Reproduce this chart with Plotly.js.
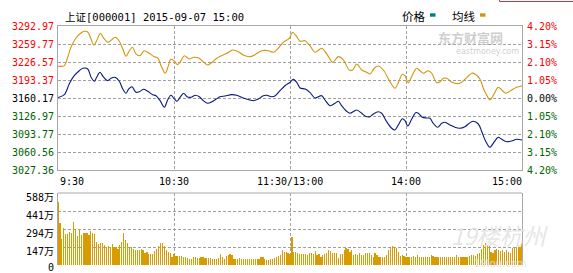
<!DOCTYPE html>
<html><head><meta charset="utf-8">
<script src="https://cdn.plot.ly/plotly-3.0.1.min.js"></script>
<style>html,body{margin:0;padding:0;background:#fff}#chart{width:573px;height:273px}</style>
</head><body><div id="chart"></div>
<script>
const headerText = '上证[000001] 2015-09-07 15:00';
const legendNames = ['价格', '均线'];
const prevClose = 3160.17;
const priceTicks = [3292.97,3259.77,3226.57,3193.37,3160.17,3126.97,3093.77,3060.56,3027.36];
const pctTicks = ['4.20%','3.15%','2.10%','1.05%','0.00%','1.05%','2.10%','3.15%','4.20%'];
const timeTickVals = [0,60,120,180,240];
const timeTickText = ['9:30','10:30','11:30/13:00','14:00','15:00'];
const volTicks = [588,441,294,147,0];
const volTickText = ['588万','441万','294万','147万','0'];

const priceMin = [0,3.3,5.8,8.4,11.0,12.8,15.4,17.1,18.8,20.0,21.7,23.4,25.7,27.4,29.5,31.7,33.5,35.2,36.6,38.3,40.3,42.1,44.3,46.4,49.0,50.7,52.8,55.0,56.7,58.4,60.2,61.6,63.1,65.0,66.7,68.8,71.0,73.1,75.2,77.4,79.7,81.7,83.8,86.4,89.8,92.4,95.8,99.3,101.0,103.6,106.2,107.9,110.5,112.2,114.8,117.4,120.0,121.7,123.5,125.2,127.8,130.3,132.9,136.4,138.1,140.7,143.3,145.0,146.7,149.3,151.0,154.5,157.1,158.8,161.4,163.1,165.7,167.4,170.0,172.6,174.3,176.0,178.1,179.5,180.9,182.9,185.0,186.4,188.4,190.7,192.4,194.1,196.4,198.5,200.2,202.8,205.3,207.9,210.5,213.1,214.8,217.4,219.2,220.9,223.4,225.7,227.7,229.5,232.1,234.7,237.2,240];
const priceVal = [3161,3166.3,3186.0,3201.3,3210.5,3215.0,3213.7,3198.4,3191.0,3198.4,3207.6,3199.5,3192.1,3196.5,3198.4,3191.0,3176.8,3168.9,3176.8,3181.0,3170.7,3171.8,3176.2,3172.6,3166.3,3164.4,3155.2,3143.0,3156.5,3165.2,3158.4,3154.1,3161.5,3168.9,3162.6,3161.5,3165.2,3162.6,3155.2,3150.4,3153.4,3157.8,3162.6,3163.9,3166.3,3165.2,3160.2,3156.5,3155.2,3158.4,3164.4,3165.2,3162.6,3163.9,3173.6,3182.8,3189.1,3194.6,3189.1,3178.6,3176.8,3170.7,3160.2,3164.4,3156.5,3146.0,3150.4,3154.1,3146.0,3135.7,3132.0,3138.1,3132.0,3127.0,3125.7,3130.7,3134.9,3132.0,3116.5,3104.3,3101.2,3110.4,3122.0,3118.3,3108.5,3120.9,3133.1,3132.0,3124.6,3123.3,3122.7,3113.5,3106.1,3113.5,3115.4,3110.4,3106.1,3104.3,3107.3,3114.6,3117.2,3112.2,3098.0,3082.7,3069.3,3079.6,3087.7,3084.0,3079.6,3080.9,3084.0,3082.7];

const avgMin = [0,3.3,5.0,6.7,9.3,11.9,13.6,15.4,17.1,18.5,20.0,21.9,23.6,26.0,27.8,29.5,31.7,33.5,35.2,36.9,38.6,40.3,42.4,44.6,47.2,49.8,51.6,53.3,55.5,57.1,58.4,60.2,61.9,63.6,65.3,67.9,70.2,72.8,74.8,77.4,79.7,81.7,83.8,87.3,90.4,93.3,95.8,99.3,101.9,105.4,108.8,111.4,114.0,116.5,119.6,121.4,123.1,125.2,127.8,130.3,132.9,136.4,139.0,142.1,145.0,147.6,150.7,152.4,154.5,157.1,159.7,161.4,163.6,165.7,168.3,171.7,174.3,176.0,178.1,179.5,181.2,183.3,185.5,187.2,189.0,191.5,193.3,195.9,197.6,199.3,201.1,203.3,205.3,207.9,210.5,214.0,215.7,218.3,220.0,221.7,223.4,225.7,227.7,229.5,231.5,234.7,237.2,240];
const avgVal = [3218.7,3219.8,3235.3,3253.7,3270.8,3280.1,3283.2,3281.9,3269.0,3258.0,3265.9,3279.5,3270.8,3262.9,3267.7,3272.2,3264.8,3250.6,3237.1,3247.4,3253.7,3241.4,3238.2,3247.4,3242.6,3236.4,3234.0,3219.8,3205.8,3219.8,3232.1,3227.9,3221.6,3229.0,3238.2,3232.1,3235.3,3234.0,3227.9,3221.1,3226.0,3232.1,3237.1,3242.6,3248.7,3245.6,3239.5,3236.4,3240.1,3247.4,3247.4,3244.5,3252.4,3262.9,3270.3,3281.4,3275.1,3264.8,3265.9,3256.7,3244.5,3251.9,3241.4,3226.0,3236.4,3230.3,3211.8,3211.8,3222.9,3211.8,3207.6,3204.5,3215.0,3219.2,3211.8,3190.3,3178.1,3188.4,3203.9,3200.8,3188.4,3202.6,3215.0,3210.5,3205.8,3210.5,3205.8,3188.4,3190.3,3196.5,3196.5,3190.3,3187.3,3187.3,3194.7,3205.8,3204.5,3194.7,3178.1,3165.7,3156.5,3168.9,3179.9,3175.0,3168.9,3175.0,3179.9,3182.3];

const volume = [517,345,215,305,251,251,272,264,354,292,240,292,245,264,258,264,245,280,264,254,190,169,182,176,161,145,156,143,172,145,145,131,163,190,264,202,176,150,143,131,123,123,123,131,119,96,104,90,90,90,116,128,156,176,182,158,119,109,96,63,90,76,76,76,74,68,63,54,49,46,63,68,
57,57,63,68,60,57,57,57,49,49,49,57,90,68,46,74,79,90,84,49,46,52,57,49,49,49,49,49,49,49,49,52,52,63,63,49,41,41,49,46,54,63,74,84,
123,109,109,101,90,226,
109,109,101,90,87,90,90,82,101,95,90,114,82,90,68,82,90,101,123,112,101,101,95,60,90,90,123,142,128,109,123,82,90,82,95,82,82,95,101,101,82,68,95,
82,68,
68,68,63,79,123,150,155,150,136,109,74,79,74,68,63,68,63,74,63,79,63,68,63,63,63,68,79,74,68,63,63,63,63,63,63,63,63,63,68,79,68,63,63,63,63,68,74,79,79,74,90,101,128,163,182,163,155,109,101,123,128,123,118,123,109,123,109,95,136,136,150,136,150,182];
const volMin = volume.map((v, i) => i);

const W = 573, H = 273;
const px = x => x / W, py = y => 1 - y / H;
const RED = '#ff0000', GREEN = '#006400', BLACK = '#000000';
const GRID = '#a0a0a0', BORDER = '#a8a8a8';
const FONT = 'DejaVu Sans Mono, Noto Sans CJK SC, monospace';
const colorFor = v => v > prevClose + 0.001 ? RED : (v < prevClose - 0.001 ? GREEN : BLACK);

const traces = [
  {x: volMin, y: volume, type: 'bar', xaxis: 'x2', yaxis: 'y2', width: 0.6,
   marker: {color: '#d89c00', line: {width: 0}}, hoverinfo: 'skip'},
  {x: avgMin, y: avgVal, type: 'scatter', mode: 'lines', xaxis: 'x', yaxis: 'y',
   line: {color: '#d4950c', width: 1.1, shape: 'spline', smoothing: 0.9}, hoverinfo: 'skip'},
  {x: priceMin, y: priceVal, type: 'scatter', mode: 'lines', xaxis: 'x', yaxis: 'y',
   line: {color: '#0a1a80', width: 1.1, shape: 'spline', smoothing: 0.9}, hoverinfo: 'skip'}
];

const annotations = [];
annotations.push({text: headerText, xref: 'paper', yref: 'paper', x: px(63), y: py(17), xanchor: 'left', yanchor: 'middle', showarrow: false, font: {family: FONT, size: 10.5, color: '#000'}});
annotations.push({text: legendNames[0], xref: 'paper', yref: 'paper', x: px(413.5), y: py(16), xanchor: 'center', yanchor: 'middle', showarrow: false, font: {family: 'Noto Sans CJK SC', size: 11.5, color: '#000'}});
annotations.push({text: legendNames[1], xref: 'paper', yref: 'paper', x: px(463.5), y: py(16), xanchor: 'center', yanchor: 'middle', showarrow: false, font: {family: 'Noto Sans CJK SC', size: 11.5, color: '#000'}});
priceTicks.forEach((v, i) => {
  annotations.push({text: v.toFixed(2), xref: 'paper', yref: 'y', x: px(56), y: v, xanchor: 'right', yanchor: 'middle', showarrow: false, font: {family: FONT, size: 10, color: colorFor(v)}});
  annotations.push({text: pctTicks[i], xref: 'paper', yref: 'y', x: px(525), y: v, xanchor: 'left', yanchor: 'middle', showarrow: false, font: {family: FONT, size: 10, color: colorFor(v)}});
});
timeTickVals.forEach((t, i) => {
  const anchor = i === 0 ? 'left' : (i === timeTickVals.length - 1 ? 'right' : 'center');
  annotations.push({text: timeTickText[i], xref: 'x', yref: 'paper', x: t, y: py(181), xanchor: anchor, yanchor: 'middle', showarrow: false, xshift: i === timeTickVals.length - 1 ? 2 : 0, font: {family: FONT, size: 10, color: '#000'}});
});
volTicks.forEach((v, i) => {
  annotations.push({text: volTickText[i], xref: 'paper', yref: 'y2', x: px(56), y: v, xanchor: 'right', yanchor: 'middle', yshift: i === volTicks.length - 1 ? -2 : -4, showarrow: false, font: {family: FONT, size: 10, color: '#000'}});
});
// watermarks
annotations.push({text: '<b>东方财富网</b>', xref: 'paper', yref: 'paper', x: px(470), y: py(38), xanchor: 'center', yanchor: 'middle', showarrow: false, font: {family: 'Noto Sans CJK SC', size: 13, color: 'rgba(190,190,190,0.75)'}});
annotations.push({text: 'eastmoney.com', xref: 'paper', yref: 'paper', x: px(487), y: py(51), xanchor: 'center', yanchor: 'middle', showarrow: false, font: {family: 'DejaVu Sans', size: 8, color: 'rgba(190,190,190,0.75)'}});
annotations.push({text: '<i>19楼杭州</i>', xref: 'paper', yref: 'paper', x: px(500), y: py(235), xanchor: 'center', yanchor: 'middle', showarrow: false, font: {family: 'Noto Sans CJK SC', size: 23, color: 'rgba(225,225,225,0.85)'}});
annotations.push({text: '19lou.com', xref: 'paper', yref: 'paper', x: px(500), y: py(263), xanchor: 'center', yanchor: 'middle', showarrow: false, font: {family: 'DejaVu Sans', size: 10, color: 'rgba(225,225,225,0.85)'}});

const shapes = [
  {type: 'line', xref: 'paper', yref: 'paper', x0: px(58), x1: px(522), y0: py(193), y1: py(193), line: {color: BORDER, width: 1}},
  {type: 'rect', xref: 'paper', yref: 'paper', x0: px(430), x1: px(435.5), y0: py(16.7), y1: py(13.3), fillcolor: '#008080', line: {width: 0}},
  {type: 'rect', xref: 'paper', yref: 'paper', x0: px(480), x1: px(485.5), y0: py(16.7), y1: py(13.3), fillcolor: '#d4950c', line: {width: 0}},
  {type: 'line', xref: 'paper', yref: 'paper', x0: px(499.5), x1: 1.01, y0: py(1.5), y1: py(1.5), line: {color: '#b04040', width: 1}},
  {type: 'line', xref: 'paper', yref: 'paper', x0: px(499.5), x1: px(499.5), y0: py(1.5), y1: 1.01, line: {color: '#b04040', width: 1}}
];

const commonX = {range: [0, 240], tickvals: [60, 120, 180], showticklabels: false, ticks: '', showgrid: true, gridcolor: GRID, griddash: '3px,2px', gridwidth: 1, zeroline: false, fixedrange: true, domain: [px(58), px(522)]};

const layout = {
  width: W, height: H, margin: {l: 0, r: 0, t: 0, b: 0},
  paper_bgcolor: '#ffffff', plot_bgcolor: '#ffffff', showlegend: false,
  xaxis: Object.assign({}, commonX, {anchor: 'y', showline: true, mirror: true, linecolor: BORDER, linewidth: 1}),
  yaxis: {domain: [py(170), py(26)], range: [priceTicks[priceTicks.length - 1], priceTicks[0]], tickvals: priceTicks.slice(1, -1), showticklabels: false, ticks: '', showgrid: true, gridcolor: GRID, griddash: '3px,2px', zeroline: false, showline: true, mirror: true, linecolor: BORDER, linewidth: 1, fixedrange: true, anchor: 'x'},
  xaxis2: Object.assign({}, commonX, {anchor: 'y2', showline: false}),
  yaxis2: {domain: [py(265), py(193)], range: [0, volTicks[0]], tickvals: volTicks.slice(1, -1), showticklabels: false, ticks: '', showgrid: true, gridcolor: GRID, griddash: '3px,2px', zeroline: false, showline: true, mirror: true, linecolor: BORDER, linewidth: 1, fixedrange: true, anchor: 'x2'},
  bargap: 0,
  annotations: annotations,
  shapes: shapes
};

Plotly.newPlot('chart', traces, layout, {displayModeBar: false, staticPlot: true});
</script>
</body></html>
